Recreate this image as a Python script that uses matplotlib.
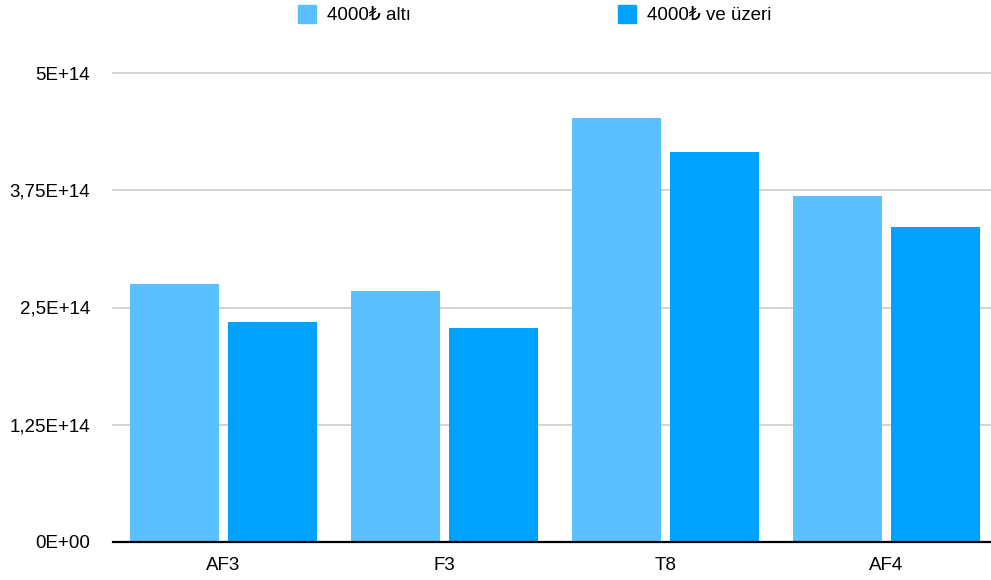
import matplotlib
matplotlib.use("Agg")
import matplotlib.pyplot as plt
import numpy as np
from matplotlib.patches import Rectangle

plt.rcParams['font.family'] = ['Liberation Sans', 'DejaVu Sans']

categories = ["AF3", "F3", "T8", "AF4"]
series_names = ["4000₺ altı", "4000₺ ve üzeri"]
below_4000 = [2.75e14, 2.676e14, 4.52e14, 3.689e14]
above_4000 = [2.345e14, 2.281e14, 4.158e14, 3.358e14]
ytick_values = [0, 1.25e14, 2.5e14, 3.75e14, 5e14]
ytick_labels = ["0E+00", "1,25E+14", "2,5E+14", "3,75E+14", "5E+14"]
colors = ["#5AC0FF", "#00A2FF"]

W, H = 991, 580
fig = plt.figure(figsize=(W / 100, H / 100), dpi=100)
left, right, bottom, top = 113, 997, 542, 73
ax = fig.add_axes([left / W, 1 - bottom / H, (right - left) / W, (bottom - top) / H])

x = np.arange(len(categories))
width = 0.4
off = 0.222
ax.bar(x - off, below_4000, width, color=colors[0], zorder=2)
ax.bar(x + off, above_4000, width, color=colors[1], zorder=2)

ax.set_xlim(-0.5, len(categories) - 0.5)
ax.set_ylim(0, 5e14)
ax.set_yticks(ytick_values)
ax.set_yticklabels(ytick_labels)
ax.set_xticks(x)
ax.set_xticklabels(categories)
ax.tick_params(axis='y', length=0, pad=16.5, labelsize=13.5, labelcolor='#000000')
ax.tick_params(axis='x', length=0, pad=10.5, labelsize=13.5, labelcolor='#000000')

for v in ytick_values[1:]:
    ax.axhline(v, color='#C8C8C8', lw=1.1, zorder=1, clip_on=False)
ax.axhline(0, color='#000000', lw=1.6, zorder=3, clip_on=False)

for s in ax.spines.values():
    s.set_visible(False)

# legend
leg_x = [298, 618]
for lx, name, c in zip(leg_x, series_names, colors):
    fig.patches.append(Rectangle((lx / W, 1 - 23 / H), 18 / W, 18 / H,
                                 transform=fig.transFigure, color=c))
    fig.text((lx + 29) / W, 1 - 15.5 / H, name, fontsize=13.5, va='center', ha='left', color='#000000')

fig.savefig("out.png", dpi=100)
